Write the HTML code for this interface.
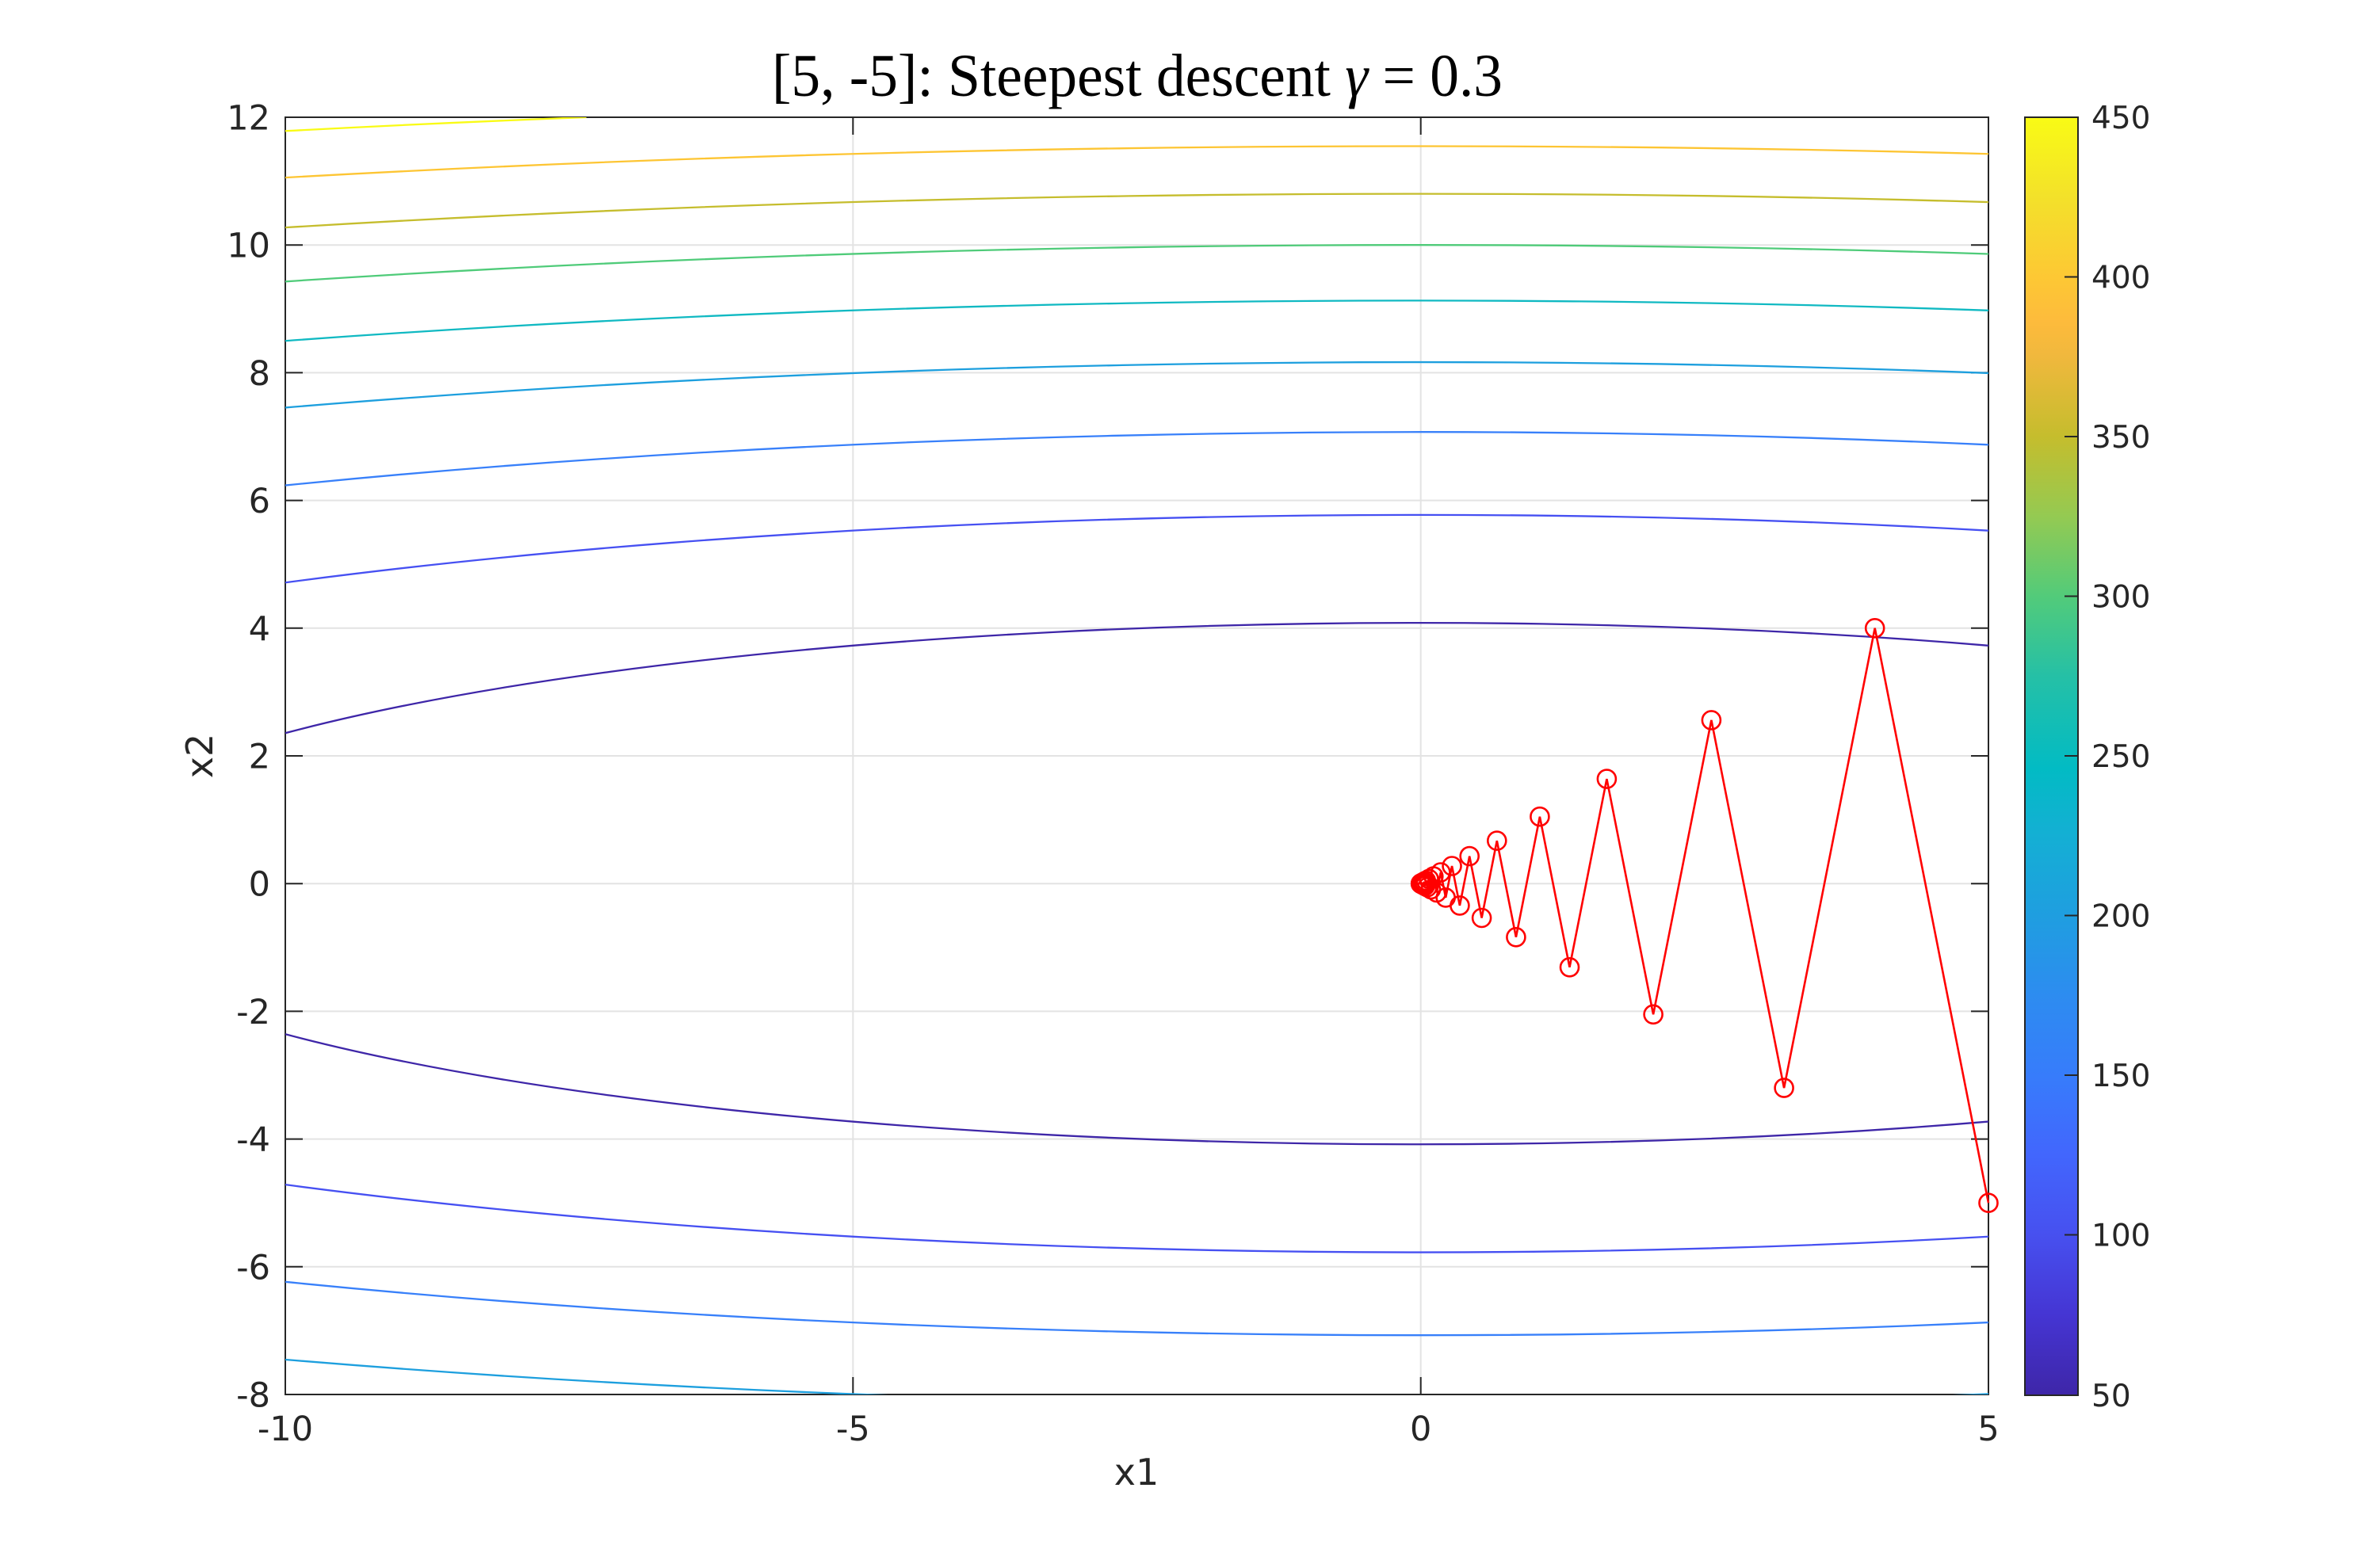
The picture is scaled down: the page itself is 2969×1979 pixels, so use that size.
<!DOCTYPE html>
<html>
<head>
<meta charset="utf-8">
<style>
  html, body { margin: 0; padding: 0; background: #ffffff; width: 2969px; height: 1979px; overflow: hidden; }
  svg { display: block; }
  .tick { font-family: "DejaVu Sans", "Liberation Sans", sans-serif; font-size: 43px; fill: #262626; }
  .cbt { font-family: "DejaVu Sans", "Liberation Sans", sans-serif; font-size: 39px; fill: #262626; }
  .lab { font-family: "DejaVu Sans", "Liberation Sans", sans-serif; font-size: 46px; fill: #262626; }
  .title { font-family: "Liberation Serif", "DejaVu Serif", serif; font-size: 76px; fill: #000000; }
</style>
</head>
<body>
<svg width="2969" height="1979" viewBox="0 0 2969 1979" xmlns="http://www.w3.org/2000/svg" overflow="hidden">
  <defs>
    <clipPath id="plot">
      <rect x="360" y="148" width="2149" height="1612"/>
    </clipPath>
    <linearGradient id="parula" x1="0" y1="1" x2="0" y2="0">
      <stop offset="0" stop-color="#3e26a8"/>
      <stop offset="0.0625" stop-color="#4535d3"/>
      <stop offset="0.125" stop-color="#4750ef"/>
      <stop offset="0.1875" stop-color="#4266fd"/>
      <stop offset="0.25" stop-color="#377cfb"/>
      <stop offset="0.3125" stop-color="#2d8cf0"/>
      <stop offset="0.375" stop-color="#1f9ee0"/>
      <stop offset="0.4375" stop-color="#14afd4"/>
      <stop offset="0.49" stop-color="#02bbc4"/>
      <stop offset="0.5625" stop-color="#25c0a6"/>
      <stop offset="0.625" stop-color="#52cb7a"/>
      <stop offset="0.6875" stop-color="#94ca52"/>
      <stop offset="0.75" stop-color="#c5bd2d"/>
      <stop offset="0.8125" stop-color="#f0b83d"/>
      <stop offset="0.84" stop-color="#fdbb3c"/>
      <stop offset="0.875" stop-color="#fdc834"/>
      <stop offset="0.9375" stop-color="#f3e12a"/>
      <stop offset="1" stop-color="#f9fb15"/>
    </linearGradient>
  </defs>

  <!-- Title -->
  <text class="title" x="1435" y="121" text-anchor="middle" textLength="922" lengthAdjust="spacingAndGlyphs">[5, -5]: Steepest descent <tspan font-style="italic">γ</tspan> = 0.3</text>

  <!-- Grid -->
  <g stroke="#e3e3e3" stroke-width="2" fill="none">
    <line x1="1076.3" y1="148" x2="1076.3" y2="1760"/>
    <line x1="1792.7" y1="148" x2="1792.7" y2="1760"/>
    <line x1="360" y1="309.2" x2="2509" y2="309.2"/>
    <line x1="360" y1="470.4" x2="2509" y2="470.4"/>
    <line x1="360" y1="631.6" x2="2509" y2="631.6"/>
    <line x1="360" y1="792.8" x2="2509" y2="792.8"/>
    <line x1="360" y1="954" x2="2509" y2="954"/>
    <line x1="360" y1="1115.2" x2="2509" y2="1115.2"/>
    <line x1="360" y1="1276.4" x2="2509" y2="1276.4"/>
    <line x1="360" y1="1437.6" x2="2509" y2="1437.6"/>
    <line x1="360" y1="1598.8" x2="2509" y2="1598.8"/>
  </g>

  <!-- Axes box -->
  <rect x="360" y="148" width="2149" height="1612" fill="none" stroke="#262626" stroke-width="2"/>

  <!-- Ticks -->
  <g stroke="#262626" stroke-width="2">
    <line x1="1076.3" y1="1760" x2="1076.3" y2="1738"/>
    <line x1="1792.7" y1="1760" x2="1792.7" y2="1738"/>
    <line x1="1076.3" y1="148" x2="1076.3" y2="170"/>
    <line x1="1792.7" y1="148" x2="1792.7" y2="170"/>
    <line x1="360" y1="309.2" x2="382" y2="309.2"/><line x1="2509" y1="309.2" x2="2487" y2="309.2"/>
    <line x1="360" y1="470.4" x2="382" y2="470.4"/><line x1="2509" y1="470.4" x2="2487" y2="470.4"/>
    <line x1="360" y1="631.6" x2="382" y2="631.6"/><line x1="2509" y1="631.6" x2="2487" y2="631.6"/>
    <line x1="360" y1="792.8" x2="382" y2="792.8"/><line x1="2509" y1="792.8" x2="2487" y2="792.8"/>
    <line x1="360" y1="954" x2="382" y2="954"/><line x1="2509" y1="954" x2="2487" y2="954"/>
    <line x1="360" y1="1115.2" x2="382" y2="1115.2"/><line x1="2509" y1="1115.2" x2="2487" y2="1115.2"/>
    <line x1="360" y1="1276.4" x2="382" y2="1276.4"/><line x1="2509" y1="1276.4" x2="2487" y2="1276.4"/>
    <line x1="360" y1="1437.6" x2="382" y2="1437.6"/><line x1="2509" y1="1437.6" x2="2487" y2="1437.6"/>
    <line x1="360" y1="1598.8" x2="382" y2="1598.8"/><line x1="2509" y1="1598.8" x2="2487" y2="1598.8"/>
  </g>

  <!-- Contours as elliptical arcs (f = x1^2/3 + 3 x2^2 = L) -->
  <g clip-path="url(#plot)" fill="none" stroke-width="2.3">
    <!-- L=50 -->
    <path stroke="#3e26a8" d="M360,925.22 A1754.6,329.05 0 0 1 2509,814.82 M360,1305.18 A1754.6,329.05 0 0 0 2509,1415.58"/>
    <!-- L=100 -->
    <path stroke="#4650f2" d="M360,735.25 A2481.5,465.35 0 0 1 2509,669.67 M360,1495.15 A2481.5,465.35 0 0 0 2509,1560.73"/>
    <!-- L=150 -->
    <path stroke="#3880fa" d="M360,612.57 A3039.2,569.93 0 0 1 2509,561.33 M360,1617.83 A3039.2,569.93 0 0 0 2509,1669.07"/>
    <!-- L=200 -->
    <path stroke="#1d9fde" d="M360,514.44 A3509.3,658.10 0 0 1 2509,470.96 M360,1715.96 A3509.3,658.10 0 0 0 2509,1759.44"/>
    <!-- L=250 -->
    <path stroke="#10b9c2" d="M360,430.23 A3923.6,735.77 0 0 1 2509,391.79"/>
    <!-- L=300 -->
    <path stroke="#4fcb79" d="M360,355.29 A4298.0,806.0 0 0 1 2509,320.48"/>
    <!-- L=350 -->
    <path stroke="#c5bd2d" d="M360,287.12 A4642.4,870.58 0 0 1 2509,255.04"/>
    <!-- L=400 -->
    <path stroke="#fdc533" d="M360,224.13 A4963.0,930.69 0 0 1 2509,194.26"/>
    <!-- L=450 -->
    <path stroke="#f9fb15" d="M360,165.32 A5264.0,987.14 0 0 1 739.9,148"/>
  </g>

  <!-- Steepest descent path -->
  <g fill="none" stroke="#ff0000" stroke-width="2.6">
    <polyline stroke-linejoin="miter" points="2509.0,1518.2 2365.7,792.8 2251.1,1373.1 2159.4,908.9 2086.1,1280.3 2027.4,983.1 1980.5,1220.8 1942.9,1030.7 1912.9,1182.8 1888.8,1061.1 1869.6,1158.5 1854.2,1080.6 1841.9,1142.9 1832.05,1093.0 1824.17,1132.9 1817.87,1101.0 1812.83,1126.5 1808.80,1106.1 1805.57,1122.5 1803.0,1109.4 1800.93,1119.85 1799.28,1111.5 1797.96,1118.2 1796.9,1112.8 1796.05,1117.1 1795.38,1113.7 1794.83,1116.4 1794.4,1114.2 1794.06,1116.0 1793.78,1114.6 1793.56,1115.7 1793.3,1115.0 1793.2,1115.5 1793.05,1115.1 1792.97,1115.4 1792.9,1115.1 1792.85,1115.3 1792.8,1115.2 1792.67,1115.2"/>
    <circle cx="2509.0" cy="1518.2" r="11.5"/>
    <circle cx="2365.7" cy="792.8" r="11.5"/>
    <circle cx="2251.1" cy="1373.1" r="11.5"/>
    <circle cx="2159.4" cy="908.9" r="11.5"/>
    <circle cx="2086.1" cy="1280.3" r="11.5"/>
    <circle cx="2027.4" cy="983.1" r="11.5"/>
    <circle cx="1980.5" cy="1220.8" r="11.5"/>
    <circle cx="1942.9" cy="1030.7" r="11.5"/>
    <circle cx="1912.9" cy="1182.8" r="11.5"/>
    <circle cx="1888.8" cy="1061.1" r="11.5"/>
    <circle cx="1869.6" cy="1158.5" r="11.5"/>
    <circle cx="1854.2" cy="1080.6" r="11.5"/>
    <circle cx="1841.9" cy="1142.9" r="11.5"/>
    <circle cx="1832.05" cy="1093.0" r="11.5"/>
    <circle cx="1824.17" cy="1132.9" r="11.5"/>
    <circle cx="1817.87" cy="1101.0" r="11.5"/>
    <circle cx="1812.83" cy="1126.5" r="11.5"/>
    <circle cx="1808.80" cy="1106.1" r="11.5"/>
    <circle cx="1805.57" cy="1122.5" r="11.5"/>
    <circle cx="1803.0" cy="1109.4" r="11.5"/>
    <circle cx="1800.93" cy="1119.85" r="11.5"/>
    <circle cx="1799.28" cy="1111.5" r="11.5"/>
    <circle cx="1797.96" cy="1118.2" r="11.5"/>
    <circle cx="1796.9" cy="1112.8" r="11.5"/>
    <circle cx="1796.05" cy="1117.1" r="11.5"/>
    <circle cx="1795.38" cy="1113.7" r="11.5"/>
    <circle cx="1794.83" cy="1116.4" r="11.5"/>
    <circle cx="1794.4" cy="1114.2" r="11.5"/>
    <circle cx="1794.06" cy="1116.0" r="11.5"/>
    <circle cx="1793.78" cy="1114.6" r="11.5"/>
    <circle cx="1793.56" cy="1115.7" r="11.5"/>
    <circle cx="1793.3" cy="1115.0" r="11.5"/>
    <circle cx="1793.2" cy="1115.5" r="11.5"/>
    <circle cx="1793.05" cy="1115.1" r="11.5"/>
    <circle cx="1792.97" cy="1115.4" r="11.5"/>
    <circle cx="1792.9" cy="1115.1" r="11.5"/>
    <circle cx="1792.8" cy="1115.2" r="11.5"/>
    <circle cx="1792.67" cy="1115.2" r="11.5"/>
  </g>

  <!-- Y tick labels -->
  <g class="tick" text-anchor="end">
    <text x="341" y="163.5">12</text>
    <text x="341" y="324.7">10</text>
    <text x="341" y="485.9">8</text>
    <text x="341" y="647.1">6</text>
    <text x="341" y="808.3">4</text>
    <text x="341" y="969.5">2</text>
    <text x="341" y="1130.7">0</text>
    <text x="341" y="1291.9">-2</text>
    <text x="341" y="1453.1">-4</text>
    <text x="341" y="1614.3">-6</text>
    <text x="341" y="1775.5">-8</text>
  </g>

  <!-- X tick labels -->
  <g class="tick" text-anchor="middle">
    <text x="360" y="1818">-10</text>
    <text x="1076.3" y="1818">-5</text>
    <text x="1792.7" y="1818">0</text>
    <text x="2509" y="1818">5</text>
  </g>

  <!-- Axis labels -->
  <text class="lab" x="1434" y="1874" text-anchor="middle">x1</text>
  <text class="lab" x="268" y="954" text-anchor="middle" transform="rotate(-90 268 954)">x2</text>

  <!-- Colorbar -->
  <rect x="2555" y="148" width="67" height="1613" fill="url(#parula)" stroke="#262626" stroke-width="2"/>
  <g stroke="#262626" stroke-width="2">
    <line x1="2605" y1="1558.5" x2="2622" y2="1558.5"/>
    <line x1="2605" y1="1357" x2="2622" y2="1357"/>
    <line x1="2605" y1="1155.5" x2="2622" y2="1155.5"/>
    <line x1="2605" y1="954" x2="2622" y2="954"/>
    <line x1="2605" y1="752.5" x2="2622" y2="752.5"/>
    <line x1="2605" y1="551" x2="2622" y2="551"/>
    <line x1="2605" y1="349.5" x2="2622" y2="349.5"/>
  </g>
  <g class="cbt">
    <text x="2639" y="1775">50</text>
    <text x="2639" y="1572.5">100</text>
    <text x="2639" y="1371">150</text>
    <text x="2639" y="1169.5">200</text>
    <text x="2639" y="968">250</text>
    <text x="2639" y="766.5">300</text>
    <text x="2639" y="565">350</text>
    <text x="2639" y="363.5">400</text>
    <text x="2639" y="162">450</text>
  </g>
</svg>
</body>
</html>
